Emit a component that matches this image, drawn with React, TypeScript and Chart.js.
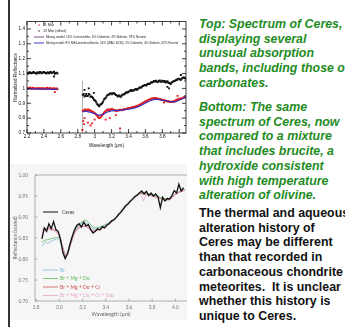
import React, { useEffect, useRef } from "react";
import { Chart, registerables } from "chart.js";

Chart.register(...registerables);

/* ---------------- top panel: Ceres spectra from two nights + mixing models ---------------- */

const TOP_X_TICKS = [2.2, 2.4, 2.6, 2.8, 3, 3.2, 3.4, 3.6, 3.8, 4];
const TOP_X_MINOR = [2.3, 2.5, 2.7, 2.9, 3.1, 3.3, 3.5, 3.7, 3.9];
const TOP_Y_TICKS = [0.7, 0.8, 0.9, 1, 1.1, 1.2, 1.3, 1.4];
const TOP_Y_MINOR = [0.75, 0.85, 0.95, 1.05, 1.15, 1.25, 1.35];

const TOP_LEGEND = [
  "11 Mar",
  "19 Mar (offset)",
  "Mixing model: 14% Cronstedtite, 4% Dolomite, 4% Siderite, 78% Neutral",
  "Mixing model: 8% NH4-montmorillonite, 54% (WAC 6530), 2% Dolomite, 4% Siderite, 32% Neutral",
];

// short-wavelength segment
const WL_SHORT = [2.2, 2.22, 2.24, 2.26, 2.28, 2.3, 2.32, 2.34, 2.36, 2.38, 2.4, 2.42, 2.44, 2.46, 2.48, 2.5, 2.52, 2.54, 2.56];
const MAR19_SHORT = [1.106, 1.102, 1.108, 1.104, 1.11, 1.103, 1.107, 1.101, 1.109, 1.105, 1.111, 1.104, 1.108, 1.102, 1.11, 1.106, 1.112, 1.104, 1.1];
const MAR11_SHORT = [1.003, 0.999, 1.004, 0.998, 1.002, 1.0, 0.997, 1.003, 0.999, 0.996, 1.002, 0.998, 1.004, 0.997, 1.001, 0.996, 1.0, 0.998, 0.994];
const WL_SHORT_MID = [2.21, 2.23, 2.25, 2.27, 2.29, 2.31, 2.33, 2.35, 2.37, 2.39, 2.41, 2.43, 2.45, 2.47, 2.49, 2.51, 2.53, 2.55];
const MAR19_SHORT_MID = [1.1, 1.109, 1.101, 1.107, 1.104, 1.099, 1.106, 1.11, 1.102, 1.108, 1.105, 1.1, 1.106, 1.109, 1.103, 1.107, 1.098, 1.106];
const MAR11_SHORT_MID = [0.998, 1.004, 1.0, 1.005, 0.997, 1.002, 1.0, 0.996, 1.003, 1.0, 0.997, 1.003, 0.999, 1.002, 0.997, 1.001, 0.995, 0.999];

// long-wavelength segment (3 µm band)
const WL_LONG = [
  2.86, 2.88, 2.9, 2.92, 2.94, 2.96, 2.98, 3.0, 3.02, 3.04,
  3.06, 3.08, 3.1, 3.12, 3.14, 3.16, 3.18, 3.2, 3.22, 3.24,
  3.26, 3.28, 3.3, 3.32, 3.34, 3.36, 3.38, 3.4, 3.42, 3.44,
  3.46, 3.48, 3.5, 3.52, 3.54, 3.56, 3.58, 3.6, 3.62, 3.64,
  3.66, 3.68, 3.7, 3.72, 3.74, 3.76, 3.78, 3.8, 3.82, 3.84,
  3.86, 3.88, 3.9, 3.92, 3.94, 3.96, 3.98, 4.0, 4.02, 4.04,
  4.06, 4.08,
];
const MAR19_LONG = [
  0.955, 0.945, 0.962, 0.95, 0.958, 0.945, 0.935, 0.92, 0.905, 0.89,
  0.885, 0.895, 0.912, 0.93, 0.945, 0.958, 0.965, 0.96, 0.97, 0.962,
  0.955, 0.95, 0.945, 0.952, 0.96, 0.966, 0.972, 0.978, 0.985, 0.982,
  0.99, 0.994, 0.99, 1.0, 1.005, 1.012, 1.018, 1.022, 1.026, 1.03,
  1.036, 1.04, 1.05, 1.048, 1.042, 1.05, 1.046, 1.052, 1.045, 1.04,
  1.048, 1.036, 1.03, 1.044, 1.05, 1.055, 1.06, 1.064, 1.058, 1.07,
  1.072, 1.066,
];
const MAR11_LONG = [
  0.848, 0.856, 0.852, 0.858, 0.853, 0.849, 0.842, 0.834, 0.822, 0.808,
  0.802, 0.812, 0.828, 0.842, 0.852, 0.858, 0.856, 0.862, 0.857, 0.852,
  0.849, 0.852, 0.856, 0.853, 0.858, 0.861, 0.864, 0.866, 0.869, 0.872,
  0.875, 0.878, 0.882, 0.886, 0.892, 0.898, 0.905, 0.912, 0.918, 0.923,
  0.928, 0.931, 0.934, 0.935, 0.931, 0.929, 0.926, 0.923, 0.921, 0.917,
  0.914, 0.911, 0.909, 0.911, 0.914, 0.919, 0.925, 0.931, 0.928, 0.936,
  0.941, 0.938,
];
const WL_LONG_MID = [
  2.87, 2.89, 2.91, 2.93, 2.95, 2.97, 2.99,
  3.01, 3.03, 3.05, 3.07, 3.09, 3.11, 3.13, 3.15, 3.17, 3.19,
  3.21, 3.23, 3.25, 3.27, 3.29, 3.31, 3.33, 3.35, 3.37, 3.39,
  3.41, 3.43, 3.45, 3.47, 3.49, 3.51, 3.53, 3.55, 3.57, 3.59,
  3.61, 3.63, 3.65, 3.67, 3.69, 3.71, 3.73, 3.75, 3.77, 3.79,
  3.81, 3.83, 3.85, 3.87, 3.89, 3.91, 3.93, 3.95, 3.97, 3.99,
  4.01, 4.03, 4.05, 4.07,
];
const MAR19_LONG_MID = [
  0.962, 0.95, 0.948, 0.962, 0.944, 0.942, 0.925,
  0.915, 0.893, 0.88, 0.892, 0.902, 0.925, 0.936, 0.955, 0.958, 0.968,
  0.962, 0.968, 0.956, 0.946, 0.952, 0.944, 0.958, 0.961, 0.972, 0.972,
  0.98, 0.99, 0.984, 0.988, 0.997, 0.994, 1.006, 1.006, 1.016, 1.024,
  1.02, 1.032, 1.03, 1.042, 1.044, 1.046, 1.052, 1.044, 1.054, 1.044,
  1.048, 1.05, 1.042, 1.04, 1.034, 1.04, 1.046, 1.052, 1.058, 1.066,
  1.06, 1.066, 1.074, 1.068,
];
const MAR11_LONG_MID = [
  0.851, 0.858, 0.85, 0.856, 0.851, 0.845, 0.838,
  0.828, 0.815, 0.803, 0.806, 0.82, 0.836, 0.848, 0.856, 0.854, 0.86,
  0.86, 0.854, 0.85, 0.851, 0.853, 0.855, 0.856, 0.859, 0.862, 0.865,
  0.868, 0.87, 0.874, 0.876, 0.88, 0.884, 0.889, 0.895, 0.902, 0.908,
  0.915, 0.921, 0.926, 0.93, 0.933, 0.936, 0.933, 0.93, 0.928, 0.925,
  0.922, 0.919, 0.916, 0.912, 0.91, 0.91, 0.912, 0.917, 0.922, 0.928,
  0.93, 0.932, 0.939, 0.94,
];

// isolated noisy points
const MAR11_STRAY_WL = [2.53, 2.855, 2.865, 2.875, 2.88, 2.92, 2.95, 2.97, 3.0, 3.13, 3.18, 3.25, 3.3, 3.82, 3.98];
const MAR11_STRAY = [0.975, 0.72, 0.78, 0.76, 0.8, 0.77, 0.75, 0.765, 0.79, 0.79, 0.8, 0.82, 0.73, 0.905, 0.95];
const MAR19_STRAY_WL = [2.52, 2.88, 2.93, 2.99, 3.86, 3.88, 4.02];
const MAR19_STRAY = [1.08, 0.99, 1.0, 0.97, 1.01, 1.0, 1.09];

// detector edge
const EDGE_WL = [2.856, 2.856];
const EDGE = [0.7, 1.05];

// mixing models
const MODEL_SHORT_WL = [2.2, 2.3, 2.4, 2.5, 2.56];
const MODEL_A_SHORT = [0.999, 0.998, 0.997, 0.996, 0.996];
const MODEL_B_SHORT = [0.997, 0.996, 0.995, 0.994, 0.994];
const MODEL_LONG_WL = [2.86, 2.9, 2.95, 3.0, 3.05, 3.1, 3.15, 3.2, 3.25, 3.3, 3.35, 3.4, 3.45, 3.5, 3.55, 3.6, 3.65, 3.7, 3.75, 3.8, 3.85, 3.9, 3.95, 4.0, 4.05, 4.08];
const MODEL_A_LONG = [0.848, 0.85, 0.842, 0.832, 0.818, 0.824, 0.842, 0.853, 0.854, 0.852, 0.856, 0.861, 0.867, 0.875, 0.888, 0.903, 0.918, 0.927, 0.927, 0.922, 0.916, 0.911, 0.91, 0.922, 0.936, 0.94];
const MODEL_B_LONG = [0.842, 0.845, 0.838, 0.83, 0.82, 0.826, 0.84, 0.848, 0.85, 0.852, 0.856, 0.86, 0.865, 0.872, 0.885, 0.9, 0.915, 0.925, 0.925, 0.92, 0.915, 0.91, 0.908, 0.92, 0.935, 0.94];

/* ---------------- bottom panel: Ceres vs brucite-bearing mixtures ---------------- */

const BOT_X_TICKS = [2.8, 3.0, 3.2, 3.4, 3.6, 3.8, 4.0];
const BOT_Y_TICKS = [0.7, 0.75, 0.8, 0.85, 0.9, 0.95, 1.0];

const BOT_LEGEND = ["Ceres", "Br", "Br + Mg + Do", "Br + Mg + Do + Cr", "Br + Mg + Do + Cr + Sap"];

const CERES_WL = [
  2.85, 2.87, 2.89, 2.91, 2.93, 2.95, 2.97, 2.99, 3.01, 3.03,
  3.05, 3.07, 3.09, 3.11, 3.13, 3.15, 3.17, 3.19, 3.21, 3.23,
  3.25, 3.27, 3.29, 3.31, 3.33, 3.35, 3.37, 3.39, 3.41, 3.43,
  3.45, 3.47, 3.49, 3.51, 3.53, 3.55, 3.57, 3.59, 3.61, 3.63,
  3.65, 3.67, 3.69, 3.71, 3.73, 3.75, 3.77, 3.79, 3.81, 3.83,
  3.85, 3.87, 3.89, 3.91, 3.93, 3.95, 3.97, 3.99, 4.01, 4.03,
  4.05, 4.07,
];
const CERES = [
  0.848, 0.874, 0.866, 0.884, 0.872, 0.889, 0.87, 0.866, 0.846, 0.816,
  0.801, 0.812, 0.834, 0.853, 0.869, 0.88, 0.884, 0.876, 0.888, 0.879,
  0.882, 0.87, 0.862, 0.866, 0.872, 0.869, 0.877, 0.874, 0.881, 0.884,
  0.891, 0.893, 0.899, 0.906, 0.911, 0.918, 0.926, 0.93, 0.937, 0.942,
  0.948, 0.952, 0.957, 0.962, 0.955, 0.961, 0.951, 0.957, 0.95, 0.955,
  0.948, 0.922, 0.947, 0.938, 0.944, 0.943, 0.951, 0.963, 0.957, 0.978,
  0.962, 0.97,
];

const MIX_WL = [2.85, 2.875, 2.9, 2.925, 2.95, 2.975, 3.0, 3.025, 3.05, 3.075, 3.1, 3.125, 3.15, 3.175, 3.2, 3.225, 3.25, 3.275, 3.3, 3.35, 3.4, 3.45, 3.5, 3.55, 3.6, 3.65, 3.7, 3.725, 3.75, 3.8, 3.85, 3.9, 3.95, 4.0, 4.05, 4.08];
const MIX_BR = [0.83, 0.84, 0.838, 0.842, 0.845, 0.848, 0.845, 0.828, 0.808, 0.815, 0.838, 0.858, 0.872, 0.882, 0.886, 0.888, 0.882, 0.875, 0.87, 0.874, 0.882, 0.89, 0.902, 0.922, 0.936, 0.948, 0.957, 0.956, 0.955, 0.951, 0.947, 0.943, 0.942, 0.955, 0.962, 0.965];
const MIX_BR_MG_DO = [0.84, 0.845, 0.846, 0.848, 0.85, 0.851, 0.852, 0.832, 0.81, 0.818, 0.842, 0.862, 0.876, 0.884, 0.89, 0.893, 0.888, 0.88, 0.874, 0.876, 0.882, 0.89, 0.903, 0.922, 0.937, 0.95, 0.958, 0.958, 0.957, 0.953, 0.949, 0.944, 0.943, 0.956, 0.963, 0.966];
const MIX_BR_MG_DO_CR = [0.868, 0.872, 0.875, 0.872, 0.87, 0.866, 0.858, 0.832, 0.806, 0.815, 0.838, 0.858, 0.87, 0.876, 0.878, 0.878, 0.874, 0.868, 0.866, 0.87, 0.878, 0.888, 0.9, 0.92, 0.935, 0.948, 0.957, 0.955, 0.954, 0.95, 0.946, 0.941, 0.941, 0.954, 0.961, 0.963];
const MIX_BR_MG_DO_CR_SAP = [0.862, 0.866, 0.87, 0.869, 0.868, 0.864, 0.856, 0.83, 0.808, 0.818, 0.84, 0.858, 0.872, 0.878, 0.88, 0.879, 0.876, 0.87, 0.868, 0.871, 0.879, 0.889, 0.901, 0.921, 0.936, 0.949, 0.958, 0.938, 0.955, 0.951, 0.947, 0.942, 0.942, 0.955, 0.962, 0.964];

/* ---------------- text ---------------- */

const GREEN_TOP = ["Top: Spectrum of Ceres,", "displaying several", "unusual absorption", "bands, including those of", "carbonates."];
const GREEN_BOTTOM = [
  "Bottom: The same",
  "spectrum of Ceres, now",
  "compared to a mixture",
  "that includes brucite, a",
  "hydroxide consistent",
  "with high temperature",
  "alteration of olivine.",
];
const BLACK_NOTE = [
  "The thermal and aqueous",
  "alteration history of",
  "Ceres may be different",
  "than that recorded in",
  "carbonaceous chondrite",
  "meteorites.  It is unclear",
  "whether this history is",
  "unique to Ceres.",
];

/* ---------------- helpers ---------------- */

const pts = (xs: number[], ys: (number | null)[]) => xs.map((x, i) => ({ x, y: ys[i] }));
const GAP = { x: 2.7, y: null as number | null };

const TOP_FONT = '"Liberation Sans", Arial, sans-serif';
const BOT_FONT = 'Lato, "DejaVu Sans", sans-serif';

const topColors = { mar11: "#e21e1e", mar19: "#111111", modelA: "#6e3a72", modelB: "#2424d8", edge: "#9a9a9a" };
const botColors = { ceres: "#111111", br: "#86b9dc", brMgDo: "#5cbc5c", brMgDoCr: "#cf4f4f", sap: "#e6a6c6" };

const topFrame = {
  id: "topFrame",
  afterDatasetsDraw(chart: any) {
    const { ctx, chartArea: a, scales } = chart;
    const x = scales.x;
    const y = scales.y;
    ctx.save();
    ctx.strokeStyle = "#111";
    ctx.lineWidth = 0.8;
    ctx.strokeRect(a.left, a.top, a.right - a.left, a.bottom - a.top);
    ctx.beginPath();
    const xt = (vals: number[], len: number) =>
      vals.forEach((v) => {
        const p = x.getPixelForValue(v);
        ctx.moveTo(p, a.bottom);
        ctx.lineTo(p, a.bottom - len);
        ctx.moveTo(p, a.top);
        ctx.lineTo(p, a.top + len);
      });
    const yt = (vals: number[], len: number) =>
      vals.forEach((v) => {
        const p = y.getPixelForValue(v);
        ctx.moveTo(a.left, p);
        ctx.lineTo(a.left + len, p);
        ctx.moveTo(a.right, p);
        ctx.lineTo(a.right - len, p);
      });
    xt(TOP_X_TICKS, 4);
    xt(TOP_X_MINOR, 2);
    yt(TOP_Y_TICKS, 4);
    yt(TOP_Y_MINOR, 2);
    ctx.stroke();

    // legend
    const rows = [3.5, 9.5, 15.5, 21.5];
    ctx.font = `3.6px ${TOP_FONT}`;
    ctx.textBaseline = "middle";
    const lx = a.left;
    ctx.fillStyle = topColors.mar11;
    ctx.fillRect(lx + 11.5, a.top + rows[0] - 0.6, 1.2, 1.2);
    ctx.fillStyle = topColors.mar19;
    ctx.fillRect(lx + 11.5, a.top + rows[1] - 0.6, 1.2, 1.2);
    ctx.lineWidth = 0.9;
    ctx.strokeStyle = topColors.modelA;
    ctx.beginPath();
    ctx.moveTo(lx + 7, a.top + rows[2]);
    ctx.lineTo(lx + 17, a.top + rows[2]);
    ctx.stroke();
    ctx.strokeStyle = topColors.modelB;
    ctx.beginPath();
    ctx.moveTo(lx + 7, a.top + rows[3]);
    ctx.lineTo(lx + 17, a.top + rows[3]);
    ctx.stroke();
    ctx.fillStyle = "#222";
    ctx.fillText(TOP_LEGEND[0], lx + 16, a.top + rows[0]);
    ctx.fillText(TOP_LEGEND[1], lx + 16, a.top + rows[1]);
    ctx.fillText(TOP_LEGEND[2], lx + 19, a.top + rows[2], 100);
    ctx.fillText(TOP_LEGEND[3], lx + 19, a.top + rows[3], 132);
    ctx.restore();
  },
};

const botFrame = {
  id: "botFrame",
  afterDatasetsDraw(chart: any) {
    const { ctx, chartArea: a, scales } = chart;
    const x = scales.x;
    const y = scales.y;
    ctx.save();
    ctx.strokeStyle = "#9c9c9c";
    ctx.lineWidth = 0.8;
    ctx.beginPath();
    ctx.moveTo(a.right, a.top);
    ctx.lineTo(a.left, a.top);
    ctx.lineTo(a.left, a.bottom);
    ctx.lineTo(a.right, a.bottom);
    BOT_X_TICKS.forEach((v) => {
      const p = x.getPixelForValue(v);
      ctx.moveTo(p, a.bottom);
      ctx.lineTo(p, a.bottom - 2.5);
    });
    BOT_Y_TICKS.forEach((v) => {
      const p = y.getPixelForValue(v);
      ctx.moveTo(a.left, p);
      ctx.lineTo(a.left + 2.5, p);
    });
    ctx.stroke();

    // legend
    const colors = [botColors.ceres, botColors.br, botColors.brMgDo, botColors.brMgDoCr, botColors.sap];
    const rows = [37, 95, 103.5, 112, 120.5];
    ctx.font = `5px ${BOT_FONT}`;
    ctx.textBaseline = "middle";
    BOT_LEGEND.forEach((label, i) => {
      const yy = a.top + rows[i];
      ctx.strokeStyle = colors[i];
      ctx.lineWidth = i === 0 ? 1 : 0.8;
      ctx.beginPath();
      ctx.moveTo(a.left + 8, yy);
      ctx.lineTo(a.left + 23, yy);
      ctx.stroke();
      ctx.fillStyle = i === 0 ? "#444" : colors[i];
      ctx.fillText(label, a.left + (i === 0 ? 27 : 25), yy);
    });
    ctx.restore();
  },
};

function makeTop(): any {
  const dots = (label: string, data: any[], color: string) => ({
    label,
    data,
    showLine: false,
    pointStyle: "rect",
    pointRadius: 1.35,
    backgroundColor: color,
    borderWidth: 0,
  });
  return {
    type: "scatter",
    data: {
      datasets: [
        dots(
          TOP_LEGEND[1],
          [
            ...pts(WL_SHORT, MAR19_SHORT),
            ...pts(WL_SHORT_MID, MAR19_SHORT_MID),
            ...pts(WL_LONG, MAR19_LONG),
            ...pts(WL_LONG_MID, MAR19_LONG_MID),
            ...pts(MAR19_STRAY_WL, MAR19_STRAY),
          ],
          topColors.mar19
        ),
        {
          label: TOP_LEGEND[3],
          data: [...pts(MODEL_SHORT_WL, MODEL_B_SHORT), GAP, ...pts(MODEL_LONG_WL, MODEL_B_LONG)],
          showLine: true,
          pointRadius: 0,
          borderColor: topColors.modelB,
          borderWidth: 0.9,
        },
        {
          label: TOP_LEGEND[2],
          data: [...pts(MODEL_SHORT_WL, MODEL_A_SHORT), GAP, ...pts(MODEL_LONG_WL, MODEL_A_LONG)],
          showLine: true,
          pointRadius: 0,
          borderColor: topColors.modelA,
          borderWidth: 0.8,
        },
        dots(
          TOP_LEGEND[0],
          [
            ...pts(WL_SHORT, MAR11_SHORT),
            ...pts(WL_SHORT_MID, MAR11_SHORT_MID),
            ...pts(WL_LONG, MAR11_LONG),
            ...pts(WL_LONG_MID, MAR11_LONG_MID),
            ...pts(MAR11_STRAY_WL, MAR11_STRAY),
          ],
          topColors.mar11
        ),
        {
          label: "edge",
          data: pts(EDGE_WL, EDGE),
          showLine: true,
          pointRadius: 0,
          borderColor: topColors.edge,
          borderWidth: 0.8,
        },
      ],
    },
    options: {
      animation: false,
      responsive: false,
      maintainAspectRatio: false,
      events: [],
      layout: { padding: { left: 0, right: 6, top: 7.5, bottom: 0 } },
      plugins: { legend: { display: false }, tooltip: { enabled: false } },
      scales: {
        x: {
          type: "linear",
          min: 2.2,
          max: 4.08,
          afterBuildTicks: (s: any) => {
            s.ticks = TOP_X_TICKS.map((value) => ({ value }));
          },
          afterFit: (s: any) => {
            s.height = 21;
          },
          grid: { display: false, drawTicks: false },
          border: { display: false },
          ticks: {
            autoSkip: false,
            maxRotation: 0,
            padding: 1,
            color: "#111",
            font: { family: TOP_FONT, size: 4.6 },
            callback: (v: number) => String(v),
          },
          title: {
            display: true,
            text: "Wavelength (µm)",
            color: "#111",
            font: { family: TOP_FONT, size: 4.6 },
            padding: { top: 0, bottom: 6 },
          },
        },
        y: {
          type: "linear",
          min: 0.7,
          max: 1.45,
          afterBuildTicks: (s: any) => {
            s.ticks = TOP_Y_TICKS.map((value) => ({ value }));
          },
          afterFit: (s: any) => {
            s.width = 17;
          },
          grid: { display: false, drawTicks: false },
          border: { display: false },
          ticks: {
            autoSkip: false,
            padding: 2,
            color: "#111",
            font: { family: TOP_FONT, size: 4.6 },
            callback: (v: number) => String(v),
          },
          title: {
            display: true,
            text: "Normalized Reflectance",
            color: "#111",
            font: { family: TOP_FONT, size: 4.6 },
            padding: { top: 3, bottom: 0 },
          },
        },
      },
    },
    plugins: [topFrame],
  };
}

function makeBottom(): any {
  const line = (label: string, xs: number[], ys: number[], color: string, width: number) => ({
    label,
    data: pts(xs, ys),
    showLine: true,
    pointRadius: 0,
    borderColor: color,
    borderWidth: width,
    tension: 0,
  });
  return {
    type: "scatter",
    data: {
      datasets: [
        line(BOT_LEGEND[0], CERES_WL, CERES, botColors.ceres, 1.3),
        line(BOT_LEGEND[4], MIX_WL, MIX_BR_MG_DO_CR_SAP, botColors.sap, 0.8),
        line(BOT_LEGEND[3], MIX_WL, MIX_BR_MG_DO_CR, botColors.brMgDoCr, 0.8),
        line(BOT_LEGEND[2], MIX_WL, MIX_BR_MG_DO, botColors.brMgDo, 0.8),
        line(BOT_LEGEND[1], MIX_WL, MIX_BR, botColors.br, 0.8),
      ],
    },
    options: {
      animation: false,
      responsive: false,
      maintainAspectRatio: false,
      events: [],
      layout: { padding: { left: 0, right: 0, top: 11, bottom: 0 } },
      plugins: { legend: { display: false }, tooltip: { enabled: false } },
      scales: {
        x: {
          type: "linear",
          min: 2.79,
          max: 4.1,
          afterBuildTicks: (s: any) => {
            s.ticks = BOT_X_TICKS.map((value) => ({ value }));
          },
          afterFit: (s: any) => {
            s.height = 19;
          },
          grid: { display: false, drawTicks: false },
          border: { display: false },
          ticks: {
            autoSkip: false,
            maxRotation: 0,
            padding: 4,
            color: "#777",
            font: { family: BOT_FONT, size: 4.8 },
            callback: (v: number) => Number(v).toFixed(1),
          },
          title: {
            display: true,
            text: "Wavelength (µm)",
            color: "#666",
            font: { family: BOT_FONT, size: 5.2 },
            padding: { top: 0, bottom: 2.5 },
          },
        },
        y: {
          type: "linear",
          min: 0.7,
          max: 1.0,
          afterBuildTicks: (s: any) => {
            s.ticks = BOT_Y_TICKS.map((value) => ({ value }));
          },
          afterFit: (s: any) => {
            s.width = 25;
          },
          grid: { display: false, drawTicks: false },
          border: { display: false },
          ticks: {
            autoSkip: false,
            padding: 7,
            color: "#777",
            font: { family: BOT_FONT, size: 4.8 },
            callback: (v: number) => Number(v).toFixed(2),
          },
          title: {
            display: true,
            text: "Reflectance (scaled)",
            color: "#666",
            font: { family: BOT_FONT, size: 5 },
            padding: { top: 2, bottom: 0 },
          },
        },
      },
    },
    plugins: [botFrame],
  };
}

function ChartCanvas(props: { make: () => any; left: number; top: number; width: number; height: number; bg?: string }) {
  const ref = useRef<HTMLCanvasElement>(null);
  const { make, left, top, width, height, bg } = props;
  useEffect(() => {
    const chart = new Chart(ref.current as HTMLCanvasElement, make());
    return () => chart.destroy();
  }, [make]);
  return (
    <canvas
      ref={ref}
      width={width}
      height={height}
      style={{ position: "absolute", left, top, width, height, background: bg || "transparent" }}
    />
  );
}

function TextBlock(props: { lines: string[]; top: number; color: string; italic?: boolean }) {
  return (
    <div
      style={{
        position: "absolute",
        left: 199,
        top: props.top,
        whiteSpace: "pre",
        fontFamily: '"Liberation Sans", Arial, sans-serif',
        fontWeight: 700,
        fontStyle: props.italic ? "italic" : "normal",
        fontSize: 12.4,
        lineHeight: "14.7px",
        color: props.color,
      }}
    >
      {props.lines.join("\n")}
    </div>
  );
}

export default function App() {
  return (
    <div
      style={{
        position: "fixed",
        left: 0,
        top: 0,
        width: 345,
        height: 327,
        overflow: "hidden",
        background: "#ffffff",
      }}
    >
      <div style={{ position: "absolute", left: 8, top: 0, width: 2, height: 327, background: "#333" }} />
      <ChartCanvas make={makeTop} left={10} top={14} width={182} height={140} />
      <ChartCanvas make={makeBottom} left={10} top={164} width={177} height={156} bg="#f6f6f6" />
      <TextBlock lines={GREEN_TOP} top={17} color="#1f8c1f" italic />
      <TextBlock lines={GREEN_BOTTOM} top={100} color="#1f8c1f" italic />
      <TextBlock lines={BLACK_NOTE} top={206} color="#111" />
    </div>
  );
}
